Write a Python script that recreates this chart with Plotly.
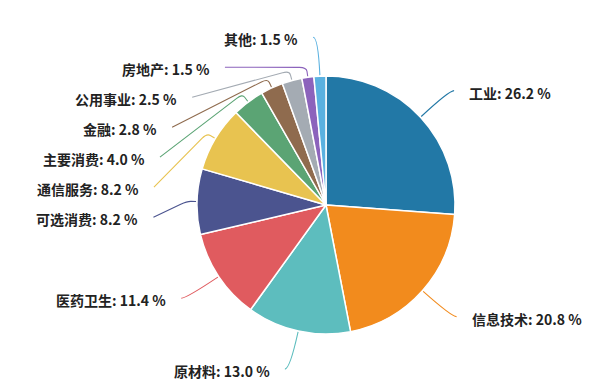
import math
import plotly.graph_objects as go

# ---- data ----
labels = ["工业", "信息技术", "原材料", "医药卫生", "可选消费", "通信服务",
          "主要消费", "金融", "公用事业", "房地产", "其他"]
values = [26.2, 20.8, 13.0, 11.4, 8.2, 8.2, 4.0, 2.8, 2.5, 1.5, 1.5]
colors = ["#2278A6", "#F28B1D", "#5DBDBE", "#E05B5F", "#4B548F", "#E8C350",
          "#5BA474", "#8F6B4E", "#A4ABB3", "#8C63BC", "#5AB1E0"]

# ---- geometry (pixels) ----
W, H = 605, 392
CX, CY, R = 326, 205, 129
LEN1, LEN2, GAP, LABEL_H = 39, 5, 13, 30
FONT = "Noto Sans CJK SC"


def pp(x, y):
    return x / W, 1 - y / H


fig = go.Figure()
dx0, dy0 = pp(CX - R, CY - R)
dx1, dy1 = pp(CX + R, CY + R)
fig.add_trace(go.Pie(
    labels=labels, values=values, sort=False, direction="clockwise", rotation=0,
    marker=dict(colors=colors, line=dict(color="white", width=1.5)),
    textinfo="none", hoverinfo="label+percent", showlegend=False,
    domain=dict(x=[dx0, dx1], y=[dy1, dy0]),
))

total = sum(values)
items = []
cum = 0.0
for lab, v, c in zip(labels, values, colors):
    mid = (cum + v / 2) / total * 2 * math.pi
    cum += v
    sx, sy = math.sin(mid), -math.cos(mid)
    items.append(dict(label=lab, v=v, c=c, sx=sx, sy=sy,
                      ideal=CY + (R + LEN1) * sy, side=-1 if sx < 0 else 1))

for side in (-1, 1):
    grp = sorted([it for it in items if it["side"] == side], key=lambda it: it["ideal"])
    prev = -1e9
    for it in grp:
        y = max(it["ideal"], prev + LABEL_H)
        it["y"] = y
        prev = y

shapes = []
annotations = []
RA = R + LEN1


def P(x, y):
    a, b = pp(x, y)
    return f"{a:.5f},{b:.5f}"


for it in items:
    sx, sy, side, y = it["sx"], it["sy"], it["side"], it["y"]
    dy = y - CY
    dxe = math.sqrt(max(RA * RA - dy * dy, 0.0))
    x2 = CX + side * (dxe + LEN2)
    x0, y0 = CX + (R + 1) * sx, CY + (R + 1) * sy
    shifted = (y - it["ideal"]) > 1
    if not shifted:
        x1, y1 = CX + RA * sx, CY + RA * sy
        path = f"M{P(x0, y0)} Q{P(x1, y1)} {P(x2, y)}"
    else:
        x1, y1 = CX + (R + 10) * sx, CY + (R + 10) * sy
        xa, ya = x1 - 4 * sx, y1 - 4 * sy
        ux, uy = x2 - x1, y - y1
        n = math.hypot(ux, uy)
        ux, uy = ux / n, uy / n
        xb, yb = x1 + 7 * ux, y1 + 7 * uy
        path = f"M{P(x0, y0)} L{P(xa, ya)} Q{P(x1, y1)} {P(xb, yb)} L{P(x2, y)}"
    shapes.append(dict(type="path", xref="paper", yref="paper", path=path,
                       line=dict(color=it["c"], width=1.1)))
    tx = x2 + side * GAP
    ax, ay = pp(tx, y + 2)
    annotations.append(dict(
        x=ax, y=ay, xref="paper", yref="paper", showarrow=False,
        xanchor="left" if side > 0 else "right", yanchor="middle",
        text=f"{it['label']}: {it['v']:.1f} %",
        font=dict(family=FONT, size=14, color="#222222", weight="bold"),
    ))

fig.update_layout(
    width=W, height=H, margin=dict(l=0, r=0, t=0, b=0),
    paper_bgcolor="white", plot_bgcolor="white",
    shapes=shapes, annotations=annotations,
)
fig.write_html("out.html", config={"displayModeBar": False},
               post_script="document.body.style.margin='0';")
